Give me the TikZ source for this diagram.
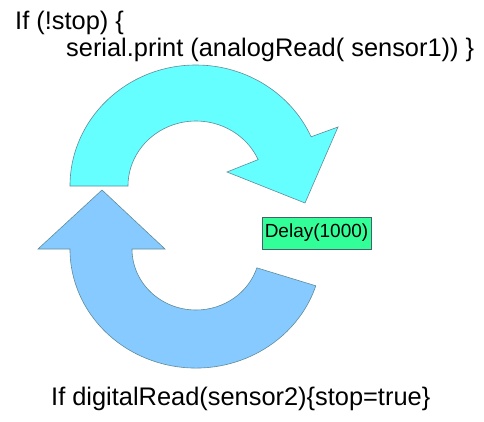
\documentclass[tikz,border=0pt]{standalone}
\usepackage{fontspec}
\setmainfont{Liberation Sans}
\definecolor{loopcyan}{RGB}{102,255,255}
\definecolor{loopblue}{RGB}{135,202,255}
\definecolor{delaygreen}{RGB}{51,255,153}
\definecolor{rim}{RGB}{95,140,155}
\begin{document}
\begin{tikzpicture}[x=1pt,y=-1pt,
  arrowshape/.style={draw=rim,line width=0.6pt,line join=miter},
  code/.style={anchor=base west,inner sep=0pt,font=\fontsize{25.4}{29}\selectfont}]
   \useasboundingbox (0,0) rectangle (484,422);
   % upper loop arrow
   \draw[arrowshape,fill=loopcyan] (70,186) arc[start angle=180,end angle=336,x radius=126,y radius=121]
      -- (338,127) -- (305,203) -- (227,172) -- (258.1,159.6)
      arc[start angle=336,end angle=180,x radius=68,y radius=65] -- cycle;
   % lower loop arrow
   \draw[arrowshape,fill=loopblue] (315.8,285.8) arc[start angle=18,end angle=180,x radius=126,y radius=119]
      -- (38,249) -- (102,190) -- (165,249) -- (132,249)
      arc[start angle=180,end angle=18,x radius=64,y radius=61] -- cycle;
   \node[code] (ifstop) at (15,30) {If (!stop) \{};
   \node[code] (printline) at (66,57) {serial.print (analogRead( sensor1)) \}};
   \node[code] (stopline) at (51,405) {If digitalRead(sensor2)\{stop=true\}};
   \node[draw=rim!70!black,line width=0.4pt,fill=delaygreen,minimum width=109pt,minimum height=32pt,inner sep=0pt,
         font=\fontsize{19}{22}\selectfont] (delay) at (316.5,233) {Delay(1000)};
\end{tikzpicture}
\end{document}
